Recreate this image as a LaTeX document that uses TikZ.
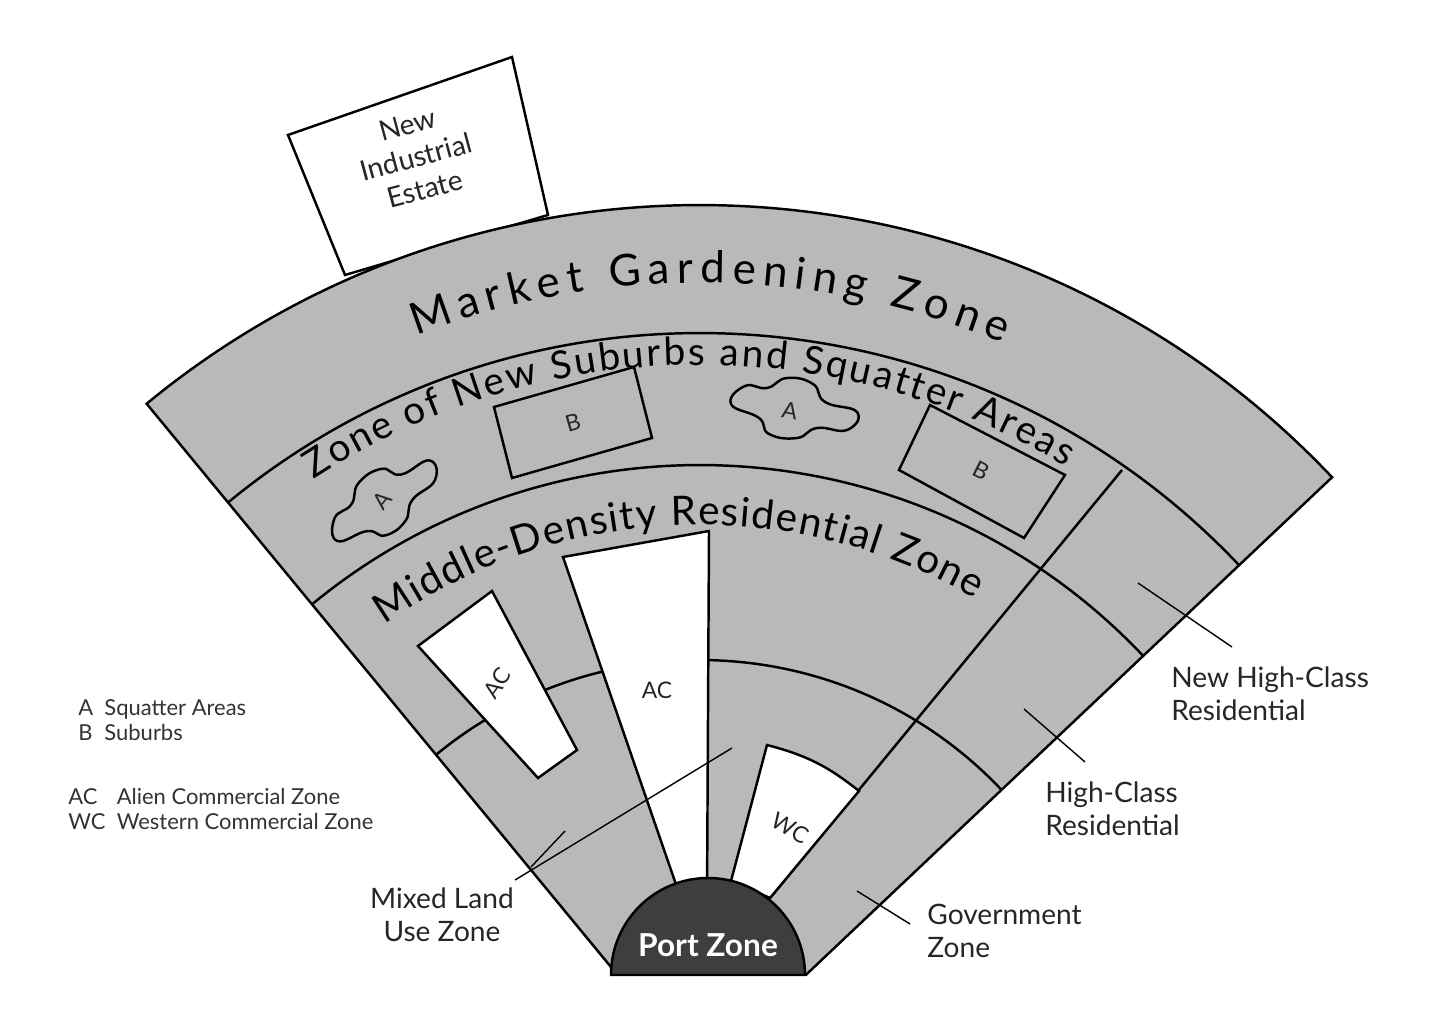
\documentclass[tikz,border=0pt]{standalone}
\usepackage{fontspec}
\setmainfont{Lato}
\usetikzlibrary{calc,decorations.text}
\definecolor{zonegray}{RGB}{185,185,185}
\definecolor{portgray}{RGB}{62,62,62}
\tikzset{
  zone/.style={fill=zonegray,draw=black,line width=1.4pt},
  edge/.style={draw=black,line width=1.4pt},
  box/.style={fill=white,draw=black,line width=1.4pt},
  ptr/.style={draw=black,line width=0.8pt},
  lbl/.style={font=\fontsize{16}{19}\selectfont,inner sep=0pt,text=black!85},
  boxlbl/.style={font=\fontsize{13}{15}\selectfont,inner sep=0pt,text=black!85},
  legend/.style={font=\fontsize{12.5}{14}\selectfont,inner sep=0pt,anchor=west,text=black!80}
}
\newcommand{\arctext}[5]{% radius, start, end, size, text
  \path[decorate,decoration={text along path,text align={fit to path},
    text={|\fontsize{#4}{#4}\selectfont|#5}}]
    ($(C)+(#2:#1)$) arc[start angle=#2,end angle=#3,radius=#1];}
\begin{document}
\begin{tikzpicture}[x=0.02cm,y=0.02cm]
  \useasboundingbox (0,0) rectangle (1440,1019);
  \coordinate (C) at (700,-56);
  % industrial estate behind the fan
  \draw[box] (288,884) -- (512,962) -- (548,804) -- (345,744) -- cycle;
  \node[lbl,align=center,rotate=15] (ind) at (416,862) {New\\Industrial\\Estate};
  % the fan
  \path[zone] ($(C)+(129.5:130)$) -- ($(C)+(129.5:870)$)
    arc[start angle=129.5,end angle=43.4,radius=870] -- ($(C)+(43.4:146)$) -- cycle;
  \foreach \r in {742,610,415}
    \draw[edge] ($(C)+(129.5:\r)$) arc[start angle=129.5,end angle=43.4,radius=\r];
  \draw[edge] (1122,549) -- (770,121);
  % commercial zones
  \draw[box] (563,462) -- (709,488) -- (707,120) -- (681,120) -- cycle;
  \node[boxlbl] (ac1) at (657,329) {AC};
  \draw[box] (418,373) -- (492,428) -- (577,269) -- (538,241) -- cycle;
  \node[boxlbl,rotate=55] (ac2) at (497,336) {AC};
  \draw[box] (731,138) -- (767,274) to[bend left=12] (859,228) -- (770,121) -- cycle;
  \node[boxlbl,rotate=-30] (wc) at (790,191) {WC};
  % suburbs and squatter areas
  \draw[edge] (494,612) -- (634,652) -- (652,581) -- (512,541) -- cycle;
  \node[boxlbl,rotate=16] (b1) at (573,596) {B};
  \draw[edge] (930,614) -- (1065,544) -- (1024,481) -- (899,549) -- cycle;
  \node[boxlbl,rotate=-27] (b2) at (981,548) {B};
  \draw[edge,shift={(795,611)}] plot[smooth cycle,tension=0.8] coordinates
    {(-64,4) (-50,22) (-28,20) (-8,30) (18,24) (30,6) (62,-4) (52,-22) (22,-20) (2,-30) (-26,-26) (-36,-10)};
  \node[boxlbl,rotate=-10] (a2) at (790,608) {A};
  \draw[edge,shift={(384,519)},rotate=45] plot[smooth cycle,tension=0.8] coordinates
    {(-62,4) (-48,22) (-26,20) (-6,30) (20,24) (30,6) (60,-4) (50,-22) (20,-20) (0,-30) (-24,-26) (-34,-10)};
  \node[boxlbl,rotate=50] (a1) at (382,519) {A};
  % port zone
  \draw[fill=portgray,draw=black,line width=1.4pt] (611,44) arc[start angle=180,end angle=0,radius=97] -- cycle;
  \node[font=\fontsize{18}{20}\selectfont\bfseries,text=white] (port) at (708,74) {Port Zone};
  % zone names along the arcs
  \arctext{792}{111}{67.5}{25}{Market Gardening Zone}
  \arctext{710}{123}{59}{22}{Zone of New Suburbs and Squatter Areas}
  \arctext{550}{125}{60}{23}{Middle-Density Residential Zone}
  % pointers and labels
  \coordinate (mx1) at (515,139); \coordinate (mx2) at (732,271);
  \draw[ptr] (mx1) -- (mx2);
  \coordinate (mxt1) at (565,188); \coordinate (mxt2) at (531,152);
  \draw[ptr] (mxt1) -- (mxt2);
  \node[lbl,align=center] (mixed) at (442,104) {Mixed Land\\Use Zone};
  \coordinate (gv1) at (857,128); \coordinate (gv2) at (910,95);
  \draw[ptr] (gv1) -- (gv2);
  \node[lbl,align=left,anchor=west] (gov) at (927,88) {Government\\Zone};
  \coordinate (hc1) at (1024,310); \coordinate (hc2) at (1085,257);
  \draw[ptr] (hc1) -- (hc2);
  \node[lbl,align=left,anchor=west] (hc) at (1045,210) {High-Class\\Residential};
  \coordinate (nh1) at (1138,436); \coordinate (nh2) at (1232,372);
  \draw[ptr] (nh1) -- (nh2);
  \node[lbl,align=left,anchor=west] (nhc) at (1171,325) {New High-Class\\Residential};
  % legend
  \node[legend] (leg1) at (78,296) {\begin{tabular}{@{}l@{\ \ }l@{}}A & Squatter Areas\\B & Suburbs\end{tabular}};
  \node[legend] (leg2) at (68,207) {\begin{tabular}{@{}l@{\ \ }l@{}}AC & Alien Commercial Zone\\WC & Western Commercial Zone\end{tabular}};
\end{tikzpicture}
\end{document}
